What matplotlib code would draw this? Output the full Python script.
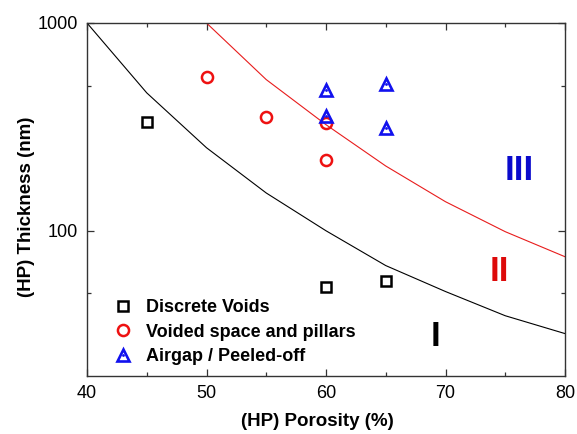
import matplotlib
matplotlib.use("Agg")
import matplotlib.pyplot as plt
from matplotlib.legend_handler import HandlerTuple
from matplotlib.ticker import FixedLocator, NullFormatter

plt.rcParams['font.family'] = ['Liberation Sans', 'DejaVu Sans']

# Boundary curves
black_x = [40, 45, 50, 55, 60, 65, 70, 75, 80]
black_y = [1000, 461, 251, 152, 100, 68, 51, 39, 32]
red_x = [50, 55, 60, 65, 70, 75, 80]
red_y = [1000, 534, 324, 205, 138, 99, 75]

# Data points
discrete_x = [45, 60, 65]
discrete_y = [332, 53.5, 57]
voided_x = [50, 55, 60, 60]
voided_y = [547, 352, 330, 219]
airgap_x = [60, 60, 65, 65]
airgap_y = [477, 355, 511, 312]

labels = ["Discrete Voids", "Voided space and pillars", "Airgap / Peeled-off"]
x_ticks = [40, 50, 60, 70, 80]
y_ticks = [100, 1000]

fig = plt.figure(figsize=(5.77, 4.34), dpi=100)
ax = fig.add_axes([87/577, 1-376/434, 478/577, 353/434])

ax.plot(black_x, black_y, color='black', lw=0.8)
ax.plot(red_x, red_y, color='#e81c1c', lw=0.8)

h1, = ax.plot(discrete_x, discrete_y, ls='none', marker='s', ms=7, mfc='none',
              mec='black', mew=1.8)
h2, = ax.plot(voided_x, voided_y, ls='none', marker='o', ms=8, mfc='none',
              mec='#ee1111', mew=1.8)
h3, = ax.plot(airgap_x, airgap_y, ls='none', marker='^', ms=9, mfc='none',
              mec='#1111ee', mew=1.9)
h3d, = ax.plot(airgap_x, airgap_y, ls='none', marker='o', ms=2, mfc='#1111ee',
               mec='#1111ee', mew=0)

ax.set_yscale('log')
ax.set_xlim(40, 80)
ax.set_ylim(20, 1000)

ax.xaxis.set_major_locator(FixedLocator(x_ticks))
ax.xaxis.set_minor_locator(FixedLocator([45, 55, 65, 75]))
ax.set_xticklabels([str(v) for v in x_ticks])
ax.yaxis.set_major_locator(FixedLocator(y_ticks))
ax.yaxis.set_minor_locator(FixedLocator([50, 500]))
ax.set_yticklabels([str(v) for v in y_ticks])
ax.yaxis.set_minor_formatter(NullFormatter())

ax.tick_params(which='both', direction='in', top=True, right=True,
               labelsize=13, pad=6.5, color='#333333')
ax.tick_params(which='major', length=5, width=0.9)
ax.tick_params(which='minor', length=3, width=0.9)
for s in ax.spines.values():
    s.set_linewidth(1.0)
    s.set_color('#333333')

ax.set_xlabel('(HP) Porosity (%)', fontsize=13.5, fontweight='bold')
ax.set_ylabel('(HP) Thickness (nm)', fontsize=13.5, fontweight='bold')
ax.xaxis.set_label_coords(0.481, -0.105)
ax.yaxis.set_label_coords(-0.108, 0.48)

ax.text(76.2, 194, 'III', color='#0a0acc', fontsize=25, fontweight='bold',
        ha='center', va='center')
ax.text(74.5, 64, 'II', color='#dd0a0a', fontsize=25, fontweight='bold',
        ha='center', va='center')
ax.text(69.2, 31, 'I', color='black', fontsize=25, fontweight='bold',
        ha='center', va='center')

leg = ax.legend([h1, h2, (h3, h3d)], labels,
                handler_map={tuple: HandlerTuple(ndivide=1, pad=0)},
                loc='upper left', bbox_to_anchor=(113.5/577, 1-299/434),
                bbox_transform=fig.transFigure, frameon=False,
                prop={'size': 13, 'weight': 'bold'},
                handlelength=1.0, handletextpad=0.8, labelspacing=0.42,
                borderpad=0, borderaxespad=0)

fig.savefig('out.png', dpi=100)
